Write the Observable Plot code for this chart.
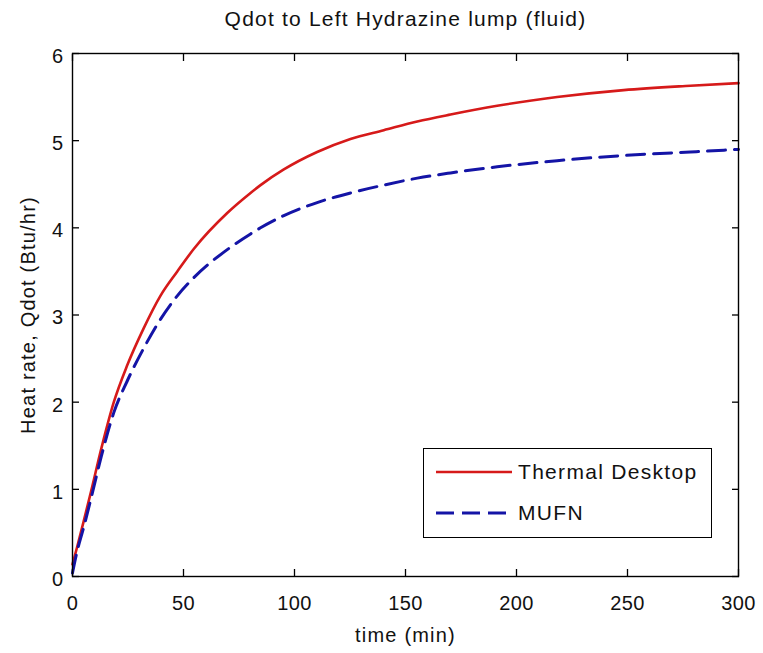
<!DOCTYPE html>
<html>
<head>
<meta charset="utf-8">
<script src="https://cdn.jsdelivr.net/npm/d3@7"></script>
<script src="https://cdn.jsdelivr.net/npm/@observablehq/plot@0.6"></script>
<style>
  body { margin: 0; background: #fff; }
  #wrap { position: relative; width: 763px; height: 653px; font-family: "Liberation Sans", Arial, sans-serif; }
  #wrap svg text { letter-spacing: 1.2px; }
  #wrap svg g[aria-label="x-axis tick label"] text,
  #wrap svg g[aria-label="y-axis tick label"] text { letter-spacing: 0.3px; }
  #legend { position: absolute; left: 423px; top: 448px; width: 287px; height: 88px; border: 1.5px solid #000; background: #fff; }
  .row { position: absolute; left: 12px; height: 24px; display: flex; align-items: center; font-size: 21px; color: #111; letter-spacing: 1.3px; }
  .row svg { margin-right: 6px; }
</style>
</head>
<body>
<div id="wrap"></div>
<script>
const title = "Qdot to Left Hydrazine lump (fluid)";
const xLabel = "time (min)";
const yLabel = "Heat rate, Qdot (Btu/hr)";
const seriesNames = ["Thermal Desktop", "MUFN"];
const seriesColors = ["#d61a1a", "#1414a6"];
const xTicks = [0, 50, 100, 150, 200, 250, 300];
const yTicks = [0, 1, 2, 3, 4, 5, 6];

const time = [0, 2, 5, 8.4, 13, 18.6, 24.6, 32.1, 39.6, 47.2, 54.7, 69.7, 80.2, 84.7, 95.2, 110.2, 125.2, 140.2, 155.3, 170.3, 191.3, 218.3, 248.3, 278.3, 300];
const thermalDesktop = [0.14, 0.33, 0.63, 0.98, 1.47, 2.00, 2.42, 2.85, 3.22, 3.50, 3.76, 4.17, 4.40, 4.49, 4.67, 4.87, 5.02, 5.12, 5.22, 5.30, 5.40, 5.50, 5.58, 5.63, 5.66];
const mufn = [0.04, 0.28, 0.56, 0.90, 1.38, 1.88, 2.24, 2.62, 2.95, 3.22, 3.43, 3.75, 3.93, 4.00, 4.14, 4.29, 4.40, 4.49, 4.57, 4.63, 4.70, 4.77, 4.83, 4.87, 4.90];

const td = time.map((t, i) => ({t, v: thermalDesktop[i]}));
const mu = time.map((t, i) => ({t, v: mufn[i]}));

const chart = Plot.plot({
  width: 763,
  height: 653,
  marginLeft: 72,
  marginRight: 25,
  marginTop: 53,
  marginBottom: 77,
  style: {fontFamily: "Liberation Sans, Arial, sans-serif", fontSize: "21px", color: "#111", background: "#fff"},
  x: {domain: [0, 300]},
  y: {domain: [0, 6]},
  marks: [
    Plot.line(td, {x: "t", y: "v", stroke: seriesColors[0], strokeWidth: 2.6, curve: "monotone-x"}),
    Plot.line(mu, {x: "t", y: "v", stroke: seriesColors[1], strokeWidth: 3, strokeDasharray: "18,9", curve: "monotone-x"}),
    Plot.frame({stroke: "#000", strokeWidth: 1.4}),
    Plot.axisX(xTicks, {anchor: "bottom", tickSize: -7, text: null, label: null, stroke: "#000", strokeWidth: 1.3}),
    Plot.axisX(xTicks, {anchor: "top", tickSize: -7, text: null, label: null, stroke: "#000", strokeWidth: 1.3}),
    Plot.axisY(yTicks, {anchor: "left", tickSize: -7, text: null, label: null, stroke: "#000", strokeWidth: 1.3}),
    Plot.axisY(yTicks, {anchor: "right", tickSize: -7, text: null, label: null, stroke: "#000", strokeWidth: 1.3}),
    Plot.axisX(xTicks, {anchor: "bottom", tickSize: 0, tickPadding: 19, tickFormat: "d", fontSize: 20, label: xLabel, labelAnchor: "center", labelArrow: "none", labelOffset: 65}),
    Plot.axisY(yTicks, {anchor: "left", tickSize: 0, tickPadding: 9, tickFormat: "d", fontSize: 20, dy: 3, label: yLabel, labelAnchor: "center", labelArrow: "none", labelOffset: 52}),
    Plot.text([title], {frameAnchor: "top", dy: -42, text: d => d, fontSize: 21, fill: "#111"})
  ]
});

const wrap = document.getElementById("wrap");
wrap.appendChild(chart);

const legend = document.createElement("div");
legend.id = "legend";
seriesNames.forEach((name, i) => {
  const row = document.createElement("div");
  row.className = "row";
  row.style.top = (i === 0 ? 11 : 52) + "px";
  const dash = i === 1 ? 'stroke-dasharray="18,8"' : '';
  row.innerHTML = `<svg width="76" height="10"><line x1="0" y1="5" x2="76" y2="5" stroke="${seriesColors[i]}" stroke-width="${i === 0 ? 2.6 : 3}" ${dash}/></svg><span>${name}</span>`;
  legend.appendChild(row);
});
wrap.appendChild(legend);
</script>
</body>
</html>
